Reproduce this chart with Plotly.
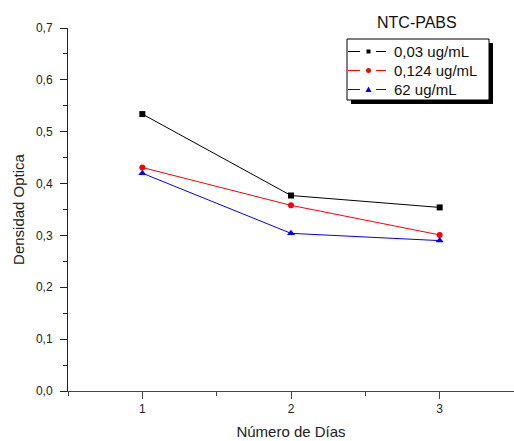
import plotly.graph_objects as go

days = [1, 2, 3]
s1_name = "0,03 ug/mL"
s1_vals = [0.534, 0.377, 0.354]
s2_name = "0,124 ug/mL"
s2_vals = [0.431, 0.358, 0.301]
s3_name = "62 ug/mL"
s3_vals = [0.420, 0.304, 0.290]
legend_title = "NTC-PABS"

FONT = "Liberation Sans, Arial, sans-serif"

series = [
    (s1_name, s1_vals, "black", "square", 6),
    (s2_name, s2_vals, "#ff0000", "circle", 6),
    (s3_name, s3_vals, "#0000ff", "triangle-up", 7),
]

fig = go.Figure()
for name, vals, col, sym, sz in series:
    fig.add_trace(go.Scatter(x=days, y=vals, name=name, mode="lines+markers",
                             line=dict(color=col, width=1),
                             marker=dict(symbol=sym, size=sz, color=col),
                             showlegend=False))

L, R, T, B = 68, 0, 28, 50
W, H = 514, 441
pw, ph = W - L - R, H - T - B

def px(x):
    return (x - L) / pw

def py(y):
    return (H - B - y) / ph

# Manual legend (box with drop shadow, title above)
shapes = [
    dict(type="rect", xref="paper", yref="paper",
         x0=px(351), x1=px(493), y0=py(104), y1=py(43),
         fillcolor="black", line=dict(width=0), layer="above"),
    dict(type="rect", xref="paper", yref="paper",
         x0=px(347), x1=px(489), y0=py(100), y1=py(39),
         fillcolor="white", line=dict(width=1, color="black"), layer="above"),
]
annotations = [
    dict(text=legend_title, x=px(417), y=py(22), xref="paper", yref="paper",
         showarrow=False, xanchor="center", yanchor="middle",
         font=dict(size=16, family=FONT, color="#111")),
]
row_y = [51.5, 70.5, 89.5]
for (name, vals, col, sym, sz), ry in zip(series, row_y):
    for xa, xb in [(348, 360), (376, 386)]:
        shapes.append(dict(type="line", xref="paper", yref="paper",
                           x0=px(xa), x1=px(xb), y0=py(ry), y1=py(ry),
                           line=dict(color=col, width=1), layer="above"))
    mx = 368.5
    if sym == "square":
        shapes.append(dict(type="rect", xref="paper", yref="paper",
                           x0=px(mx - 2), x1=px(mx + 2), y0=py(ry + 2), y1=py(ry - 2),
                           fillcolor=col, line=dict(width=0), layer="above"))
    elif sym == "circle":
        shapes.append(dict(type="circle", xref="paper", yref="paper",
                           x0=px(mx - 2.5), x1=px(mx + 2.5), y0=py(ry + 2.5), y1=py(ry - 2.5),
                           fillcolor=col, line=dict(width=0), layer="above"))
    else:
        shapes.append(dict(type="path", xref="paper", yref="paper",
                           path=f"M {px(mx-3)} {py(ry+2.5)} L {px(mx+3)} {py(ry+2.5)} L {px(mx)} {py(ry-3)} Z",
                           fillcolor=col, line=dict(width=0), layer="above"))
    annotations.append(dict(text=name, x=px(392), y=py(ry), xref="paper", yref="paper",
                            showarrow=False, xanchor="left", yanchor="middle",
                            font=dict(size=15, family=FONT, color="#111")))

fig.update_layout(
    width=W, height=H,
    margin=dict(l=L, r=R, t=T, b=B, pad=0),
    paper_bgcolor="white", plot_bgcolor="white",
    separators=",.",
    font=dict(family=FONT, color="#222", size=12),
    showlegend=False,
    hovermode=False,
    annotations=annotations,
    shapes=shapes,
)

fig.update_xaxes(range=[0.5, 3.5], tickvals=days, ticktext=[str(d) for d in days],
                 showgrid=False, zeroline=False, showline=True, linecolor="#444", linewidth=1,
                 ticks="outside", ticklen=7, tickcolor="#444", tickwidth=1,
                 minor=dict(dtick=0.5, tick0=0.5, ticks="outside", ticklen=4, tickcolor="#444"),
                 tickfont=dict(size=12, family=FONT, color="#222"),
                 title=dict(text="Número de Días", standoff=11,
                            font=dict(size=15, family=FONT, color="#222")),
                 automargin=False)
fig.update_yaxes(range=[0, 0.7], dtick=0.1, tick0=0, tickformat=".1f",
                 showgrid=False, zeroline=False, showline=True, linecolor="#222", linewidth=1,
                 ticks="outside", ticklen=7, tickcolor="#222", tickwidth=1,
                 minor=dict(dtick=0.05, tick0=0, ticks="outside", ticklen=4, tickcolor="#222"),
                 tickfont=dict(size=12, family=FONT, color="#222"),
                 ticklabelstandoff=5,
                 title=dict(text="Densidad Optica", standoff=7,
                            font=dict(size=15, family=FONT, color="#222")),
                 automargin=False)

fig.write_html("out.html", config={"displayModeBar": False, "staticPlot": True})

with open("out.html", encoding="utf-8") as f:
    html = f.read()
html = html.replace("<body>", '<body style="margin:0;padding:0;">', 1)
with open("out.html", "w", encoding="utf-8") as f:
    f.write(html)
